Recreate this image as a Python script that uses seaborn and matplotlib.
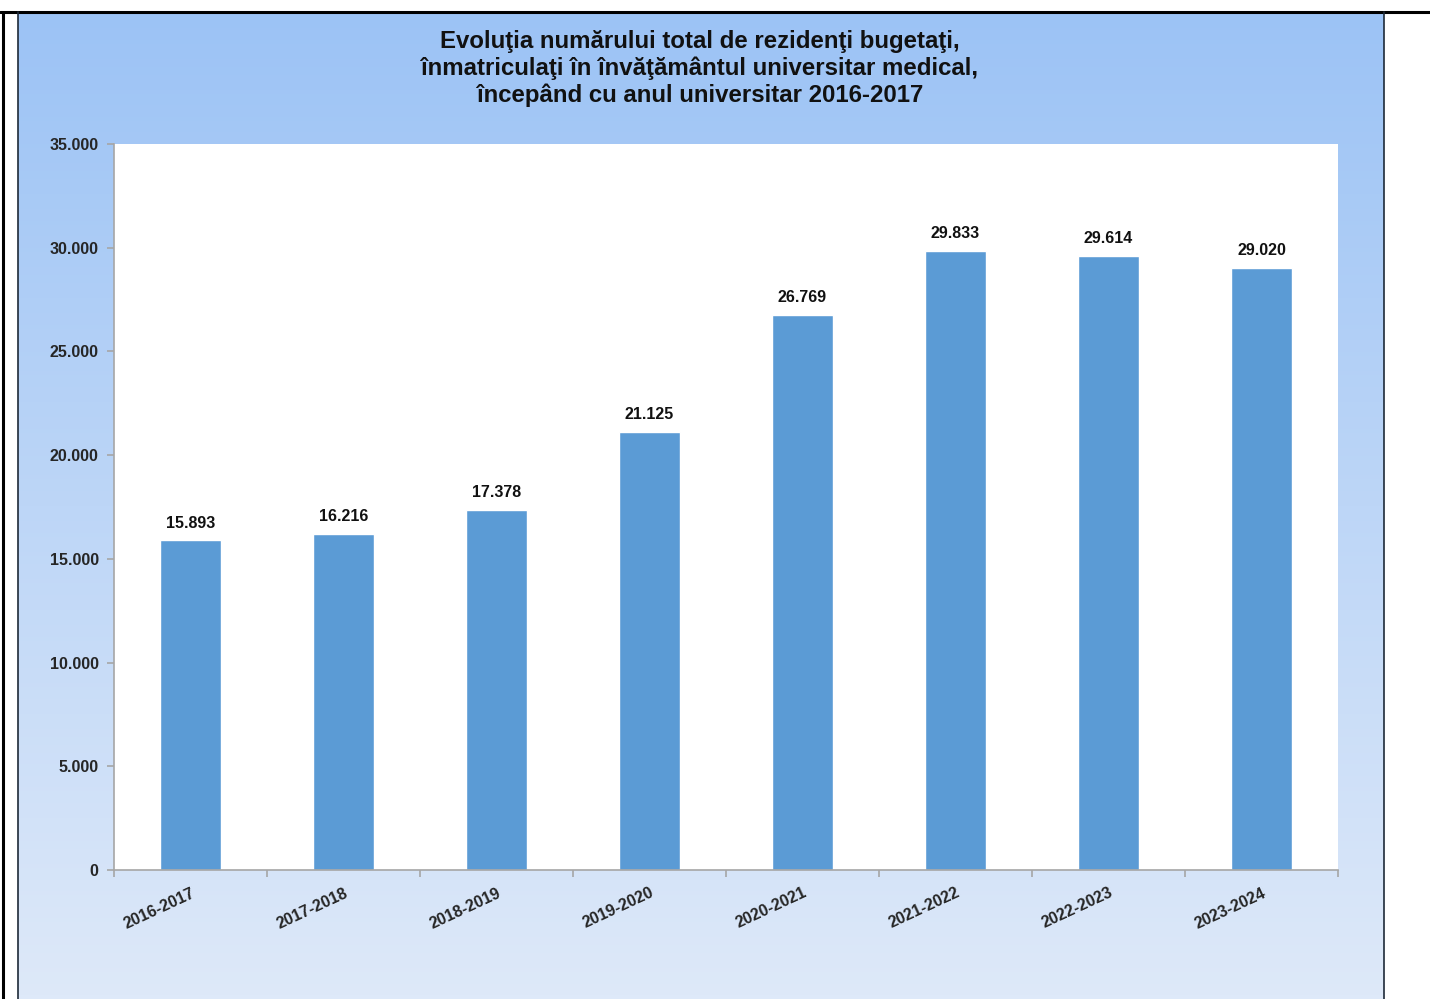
import numpy as np
import matplotlib
matplotlib.use('Agg')
import matplotlib.pyplot as plt
import matplotlib.ticker as mticker
from matplotlib.lines import Line2D
from matplotlib.colors import LinearSegmentedColormap
import seaborn as sns

# data
years = ['2016-2017', '2017-2018', '2018-2019', '2019-2020',
         '2020-2021', '2021-2022', '2022-2023', '2023-2024']
residents = [15893, 16216, 17378, 21125, 26769, 29833, 29614, 29020]

title = ('Evoluţia numărului total de rezidenţi bugetaţi,\n'
         'înmatriculaţi în învăţământul universitar medical,\n'
         'începând cu anul universitar 2016-2017')

sns.set_style('white')
plt.rcParams['font.family'] = ['Liberation Sans', 'DejaVu Sans']
plt.rcParams['font.weight'] = 'bold'

W, H = 1430, 999
fig = plt.figure(figsize=(W / 100, H / 100), dpi=100)
fig.patch.set_facecolor('white')

# gradient panel behind the chart
px0, px1, py_top = 18, 1384, 13
bg = fig.add_axes([px0 / W, 0, (px1 - px0) / W, (H - py_top) / H])
grad = LinearSegmentedColormap.from_list('g', ['#DEE9F9', '#9CC3F5'])
bg.imshow(np.linspace(0, 1, 256).reshape(-1, 1), aspect='auto', cmap=grad,
          origin='lower', extent=[0, 1, 0, 1])
bg.set_axis_off()

# frame lines
fig.add_artist(Line2D([0, 1], [1 - 12 / H, 1 - 12 / H], color='black', lw=2.2))
fig.add_artist(Line2D([3 / W, 3 / W], [0, 1 - 12 / H], color='black', lw=2.2))
fig.add_artist(Line2D([px0 / W, px0 / W], [0, 1 - 12 / H], color='#1E2A38', lw=1.2))
fig.add_artist(Line2D([px1 / W, px1 / W], [0, 1 - 12 / H], color='#1E2A38', lw=1.2))

# plot area
ax0, ax1, ay0, ay1 = 114, 1338, 144, 870
ax = fig.add_axes([ax0 / W, 1 - ay1 / H, (ax1 - ax0) / W, (ay1 - ay0) / H])
ax.set_facecolor('white')

sns.barplot(x=years, y=residents, color='#5B9BD5', width=0.4, saturation=1, ax=ax)

ax.set_ylim(0, 35000)
ax.set_xlim(-0.5, len(years) - 0.5)
ax.yaxis.set_major_locator(mticker.MultipleLocator(5000))
ax.yaxis.set_major_formatter(mticker.FuncFormatter(lambda v, p: f'{int(v):,}'.replace(',', '.')))

for s in ['top', 'right']:
    ax.spines[s].set_visible(False)
for s in ['left', 'bottom']:
    ax.spines[s].set_color('#A6A6A6')
    ax.spines[s].set_linewidth(1.2)

ax.tick_params(axis='y', which='major', length=5, width=1.2, color='#A6A6A6',
               direction='out', labelsize=11.5, pad=6, left=True)
ax.set_xticks(np.arange(-0.5, len(years), 1), minor=True)
ax.tick_params(axis='x', which='minor', length=5, width=1.2, color='#A6A6A6',
               direction='out', bottom=True)
ax.tick_params(axis='x', which='major', length=0, labelsize=11.5, pad=11)
for lbl in ax.get_xticklabels():
    lbl.set_rotation(25)
    lbl.set_ha('right')
    lbl.set_rotation_mode('anchor')
    lbl.set_fontweight('bold')
for lbl in ax.get_yticklabels():
    lbl.set_fontweight('bold')
ax.set_xlabel('')
ax.set_ylabel('')

labels = [f'{v:,}'.replace(',', '.') for v in residents]
ax.bar_label(ax.containers[0], labels=labels, padding=7, fontsize=11.5,
             fontweight='bold', color='#111111')

fig.text(0.4895, 1 - 30 / H, title, ha='center', va='top', fontsize=17.3,
         fontweight='bold', color='#111111', linespacing=1.2)

fig.savefig('out.png', dpi=100)
